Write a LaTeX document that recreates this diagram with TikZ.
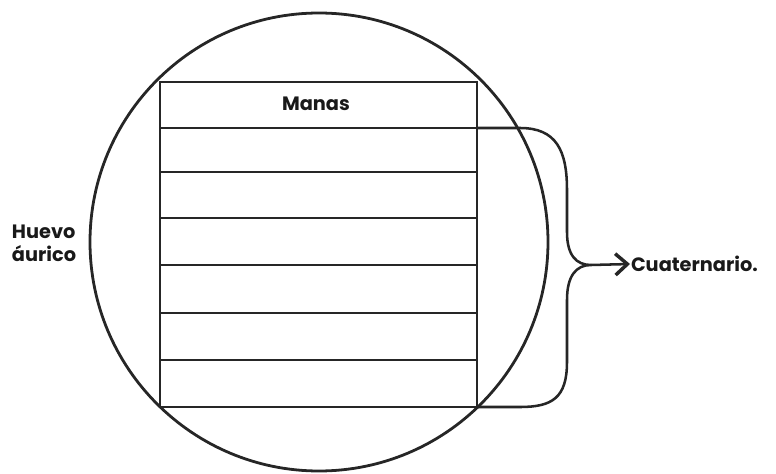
\documentclass[tikz,border=0pt]{standalone}
\usepackage{fontspec}
\newfontfamily\lblfont{Poppins}
\usetikzlibrary{arrows.meta}

\begin{document}
\begin{tikzpicture}[x=0.75pt, y=-0.75pt, line width=1.5pt,
    lbl/.style={font=\lblfont\bfseries\fontsize{14.5}{17}\selectfont, text=black!90, inner sep=0pt},
    raya/.style={draw=black!85, line width=1.9pt}]
\useasboundingbox (0,0) rectangle (776,474);

% huevo
\draw[raya, line width=2.1pt] (319,242) circle (171.75pt);

% columna de planos
\draw[raya] (160,82) rectangle (477,407);
\foreach \y in {128,172,218,265,313,360}
  \draw[raya] (160,\y) -- (477,\y);

\node[lbl] (manas) at (316,104) {Manas};
\node[lbl, align=left, anchor=west] (huevo) at (11,243) {Huevo\\áurico};

% llave
\coordinate (arriba) at (477,128);
\coordinate (abajo) at (477,407);
\coordinate (punta) at (591,265);
\draw[raya] (arriba) -- (520,128) .. controls (556,128) and (567,150) .. (567,190)
  -- (567,232) .. controls (567,255) and (576,265) .. (punta)
  .. controls (576,265) and (567,276) .. (567,300)
  -- (567,362) .. controls (567,398) and (552,407) .. (520,407) -- (abajo);

\node[lbl, anchor=west] (cuat) at (630,264) {Cuaternario.};
\draw[raya, -{Straight Barb[length=9pt, width=16pt, line width=2.6pt]}] (punta) -- (cuat.west);
\end{tikzpicture}
\end{document}
